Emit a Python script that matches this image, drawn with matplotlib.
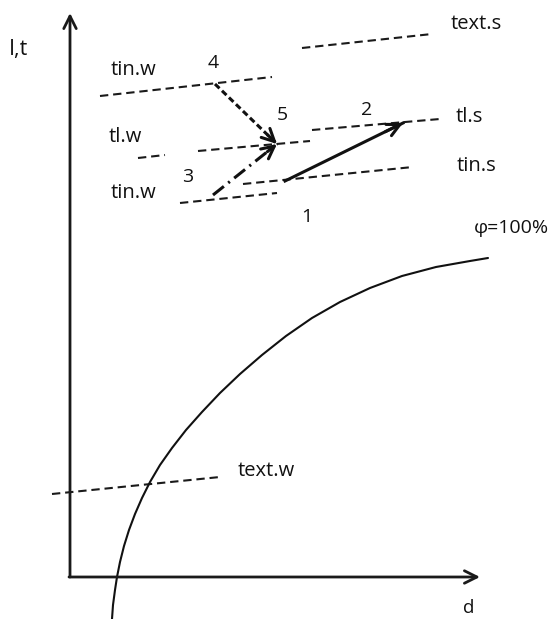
import matplotlib.pyplot as plt

plt.rcParams['font.family'] = ['Open Sans', 'DejaVu Sans']
plt.rcParams['lines.scale_dashes'] = False

# I-d diagram, coordinates (pixels, y pointing down)
axis_origin = (70, 577)
axis_i_top = (70, 13)
axis_d_end = (480, 577)

# isotherm pieces: [x0, x1], [y0, y1]
iso_ext_s = ([302, 432], [48, 34])
iso_in_w_top = ([100, 272], [96, 77])
iso_l_w_a = ([138, 165], [158, 155])
iso_l_w_b = ([198, 310], [151, 141])
iso_in_w_low = ([180, 277], [203, 193])
iso_in_s = ([243, 413], [184, 167])
iso_l_s = ([312, 440], [130, 119])
iso_ext_w = ([52, 220], [494, 477])

# saturation curve phi=100%
sat_x = [112, 113, 115, 117, 120, 124, 129, 135, 142, 150, 160, 172, 186, 202, 220,
         240, 262, 286, 312, 340, 370, 402, 436, 470, 488]
sat_y = [619, 605, 590, 577, 562, 546, 530, 514, 498, 482, 465, 448, 430, 412, 393,
         374, 355, 336, 318, 302, 288, 276, 267, 261, 258]

# process points
p1 = (285, 181)
p2 = (403, 123)
p3 = (213, 195)
p4 = (215, 84)
p5 = (277, 144)

labels = [
    ("I,t", 9, 50, 15.5),
    ("tin.w", 111, 70, 14.5),
    ("tl.w", 109, 137, 14.5),
    ("tin.w", 111, 193, 14.5),
    ("text.s", 451, 24, 14.5),
    ("tl.s", 456, 117, 14.5),
    ("tin.s", 457, 166, 14.5),
    ("φ=100%", 474, 228, 14),
    ("text.w", 238, 471, 14.5),
    ("d", 463, 608, 13.5),
    ("4", 208, 63, 14),
    ("5", 277, 115, 14),
    ("2", 361, 110, 14),
    ("1", 301, 217, 14),
    ("3", 182, 177, 14),
]

fig = plt.figure(figsize=(5.55, 6.19), dpi=100)
ax = fig.add_axes([0, 0, 1, 1])
ax.set_xlim(0, 555)
ax.set_ylim(619, 0)
ax.axis("off")

# axes with open arrow heads
ax.annotate("", xy=axis_i_top, xytext=axis_origin,
            arrowprops=dict(arrowstyle="->,head_length=0.9,head_width=0.45", lw=2.0,
                            color="#1a1a1a", shrinkA=0, shrinkB=0))
ax.annotate("", xy=axis_d_end, xytext=(axis_origin[0] - 1, axis_origin[1]),
            arrowprops=dict(arrowstyle="->,head_length=0.9,head_width=0.45", lw=2.0,
                            color="#1a1a1a", shrinkA=0, shrinkB=0))

for xs, ys in [iso_ext_s, iso_in_w_top, iso_l_w_a, iso_l_w_b,
               iso_in_w_low, iso_in_s, iso_l_s, iso_ext_w]:
    ax.plot(xs, ys, color="#1a1a1a", lw=1.5, dashes=(6, 3.5))

ax.plot(sat_x, sat_y, color="#111111", lw=1.5, solid_joinstyle="round", solid_capstyle="round")


def process_arrow(start, end, dashes=None, lw=2.0):
    # shaft
    if dashes is None:
        ax.plot([start[0], end[0]], [start[1], end[1]], color="#111111", lw=lw)
    else:
        ax.plot([start[0], end[0]], [start[1], end[1]], color="#111111", lw=lw, dashes=dashes)
    # solid open head at the end
    back = (end[0] - 0.15 * (end[0] - start[0]), end[1] - 0.15 * (end[1] - start[1]))
    ax.annotate("", xy=end, xytext=back,
                arrowprops=dict(arrowstyle="->,head_length=0.9,head_width=0.45", lw=lw,
                                color="#111111", shrinkA=0, shrinkB=0))


process_arrow(p1, p2, lw=2.2)
process_arrow(p3, p5, dashes=(10, 4, 1.5, 4), lw=2.2)
process_arrow(p4, p5, dashes=(4.5, 2.5), lw=2.2)

for txt, x, y, fs in labels:
    ax.text(x, y, txt, fontsize=fs, ha="left", va="center", color="#111111")

fig.savefig("out.png", dpi=100)
